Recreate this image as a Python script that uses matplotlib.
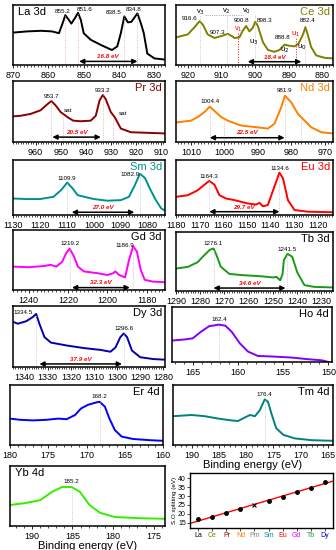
import numpy as np
import matplotlib
matplotlib.use("Agg")
import matplotlib.pyplot as plt
from matplotlib.ticker import MultipleLocator, FixedLocator

plt.rcParams['font.family'] = ['Liberation Sans', 'DejaVu Sans']

# ---- spectra (x in eV, y = relative intensity 0..1 of panel height) ----
la_x = [870, 866, 862, 859, 857, 856, 855.2, 854.3, 853.5, 852.5, 851.6, 850.8, 850, 848, 845, 842,
        840.5, 839.5, 838.5, 837.5, 836.5, 834.8, 833.8, 833, 832, 830, 827]
la_y = [0.54, 0.56, 0.57, 0.56, 0.53, 0.69, 0.83, 0.76, 0.69, 0.78, 0.87, 0.75, 0.53, 0.42, 0.33, 0.25,
        0.31, 0.53, 0.81, 0.71, 0.72, 0.86, 0.69, 0.53, 0.19, 0.11, 0.09]

ce_x = [923.5, 920, 918, 916.5, 915.5, 914.1, 912.1, 909.6, 908.1, 906.1, 904.7, 903.7, 902.7, 901.7,
        900.7, 900, 899.2, 897.7, 896.2, 894.3, 892.8, 891.3, 889.8, 888.3, 887.1, 885.8, 885.1, 884.4,
        883.4, 881.9, 879.4, 876.9]
ce_y = [0.46, 0.51, 0.63, 0.73, 0.67, 0.51, 0.45, 0.49, 0.52, 0.45, 0.46, 0.57, 0.65, 0.56,
        0.62, 0.72, 0.65, 0.38, 0.25, 0.22, 0.25, 0.34, 0.32, 0.31, 0.36, 0.51, 0.63, 0.51,
        0.30, 0.16, 0.12, 0.11]

pr_x = [969, 966, 962, 958, 955, 953.7, 952, 950, 949, 947, 945, 942, 938, 936, 934.5, 933.2, 932, 930,
        928.5, 926, 922, 915, 908]
pr_y = [0.42, 0.43, 0.46, 0.52, 0.63, 0.67, 0.60, 0.49, 0.46, 0.40, 0.35, 0.34, 0.35, 0.43, 0.68, 0.77,
        0.70, 0.49, 0.41, 0.22, 0.16, 0.15, 0.14]

nd_x = [1014.5, 1010, 1008, 1006, 1004.4, 1003, 1001, 999, 995, 990, 987, 985, 983, 981.9, 980, 978,
        976, 974, 971, 967.5]
nd_y = [0.32, 0.35, 0.41, 0.49, 0.58, 0.51, 0.41, 0.35, 0.27, 0.24, 0.22, 0.30, 0.57, 0.76, 0.65, 0.46,
        0.35, 0.24, 0.16, 0.14]

sm_x = [1130, 1125, 1120, 1115, 1112, 1109.9, 1108, 1106, 1100, 1095, 1090, 1087, 1085, 1082.9, 1081,
        1079, 1077, 1075, 1073.6]
sm_y = [0.30, 0.29, 0.29, 0.33, 0.46, 0.59, 0.49, 0.36, 0.29, 0.26, 0.27, 0.33, 0.52, 0.75, 0.67,
        0.46, 0.27, 0.12, 0.08]

eu_x = [1180, 1175, 1170.8, 1168, 1165.9, 1163.7, 1161.6, 1158.8, 1155.2, 1149.6, 1146.1, 1144.6,
        1143.2, 1141.1, 1138.3, 1136.2, 1134.7, 1132.6, 1129.8, 1124.1, 1113.5]
eu_y = [0.33, 0.36, 0.45, 0.55, 0.62, 0.55, 0.36, 0.30, 0.27, 0.21, 0.19, 0.22, 0.16, 0.18, 0.52,
        0.77, 0.67, 0.27, 0.09, 0.06, 0.05]

gd_x = [1248, 1240, 1232, 1229, 1226, 1223, 1221, 1219.2, 1217, 1215, 1212, 1205, 1200, 1197, 1196,
        1194, 1191, 1189, 1186.9, 1185, 1183, 1181, 1177, 1171]
gd_y = [0.39, 0.38, 0.40, 0.42, 0.39, 0.47, 0.61, 0.69, 0.56, 0.39, 0.31, 0.28, 0.25, 0.28, 0.31,
        0.25, 0.21, 0.50, 0.73, 0.64, 0.33, 0.17, 0.14, 0.13]

tb_x = [1290, 1285, 1281, 1279, 1276, 1274.5, 1273.5, 1271.5, 1268, 1263, 1255, 1250, 1248.5, 1247,
        1246, 1245.5, 1244, 1242, 1240, 1237, 1233, 1225.2]
tb_y = [0.38, 0.41, 0.49, 0.58, 0.70, 0.72, 0.63, 0.41, 0.29, 0.27, 0.25, 0.23, 0.24, 0.18,
        0.29, 0.52, 0.63, 0.58, 0.32, 0.10, 0.07, 0.06]

dy_x = [1345, 1342.9, 1339.3, 1336.4, 1335, 1333.6, 1331.4, 1328.6, 1321.4, 1314.3, 1307.1, 1302.9,
        1300.7, 1298.6, 1297.1, 1295.7, 1293.6, 1290, 1284.3, 1279.3]
dy_y = [0.74, 0.71, 0.75, 0.82, 0.87, 0.71, 0.49, 0.40, 0.35, 0.31, 0.28, 0.25,
        0.32, 0.49, 0.55, 0.49, 0.27, 0.16, 0.13, 0.12]

ho_x = [167.3, 165.9, 165, 164.1, 163.2, 162.1, 161.4, 160.7, 159.8, 158.9, 157.8, 156.2, 154,
        152.2, 150.7, 150]
ho_y = [0.39, 0.41, 0.43, 0.55, 0.65, 0.68, 0.66, 0.55, 0.34, 0.19, 0.11, 0.10, 0.08,
        0.05, 0.03, 0.0]

er_x = [180, 178.7, 177, 175.2, 173.7, 172.6, 171.5, 170.7, 169.8, 168.7, 168.3, 167.6, 167, 166.3,
        165.4, 163.9, 161.7, 160]
er_y = [0.44, 0.42, 0.41, 0.42, 0.44, 0.43, 0.50, 0.61, 0.67, 0.71, 0.72, 0.64, 0.44, 0.25,
        0.14, 0.10, 0.08, 0.07]

tm_x = [193.4, 190, 187.6, 185.1, 182.7, 181.5, 180.2, 179.3, 178.4, 177.5, 176.6, 176, 175.4, 174.5,
        173.2, 171.1, 168, 164.1]
tm_y = [0.48, 0.50, 0.48, 0.44, 0.41, 0.40, 0.46, 0.50, 0.48, 0.58, 0.76, 0.72, 0.53, 0.28,
        0.17, 0.11, 0.08, 0.07]

yb_x = [192.7, 190.9, 189, 187.5, 186.3, 185.1, 184.1, 182.9, 181.6, 179.8, 176.7, 173.6]
yb_y = [0.35, 0.38, 0.43, 0.57, 0.65, 0.65, 0.57, 0.35, 0.22, 0.15, 0.13, 0.12]

# spin-orbit splitting summary
so_elements = ['La', 'Ce', 'Pr', 'Nd', 'Pm', 'Sm', 'Eu', 'Gd', 'Tb', 'Dy']
so_colors = ['black', '#808000', '#8b0000', '#ff8000', '#808080', '#009090', '#ff0000', '#ff00ff',
             '#1a9a1a', '#0000b0']
so_values = [16.8, 18.4, 20.5, 22.5, 24.8, 27.0, 29.7, 32.3, 34.6, 37.9]

W, H = 336, 550
fig = plt.figure(figsize=(W / 100, H / 100), dpi=100)


def box(x0, y0, x1, y1):
    return fig.add_axes([x0 / W, 1 - y1 / H, (x1 - x0) / W, (y1 - y0) / H])


def panel(rect, xs, ys, xlim, color, name, name_color='black', major=10, minor=1,
          name_left=False, ticklabels=None):
    ax = box(*rect)
    ax.plot(xs, ys, color=color, lw=1.4)
    ax.set_xlim(*xlim)
    ax.set_ylim(0, 1)
    ax.set_yticks([])
    ax.xaxis.set_major_locator(MultipleLocator(major))
    ax.xaxis.set_minor_locator(MultipleLocator(minor))
    ax.tick_params(axis='x', which='major', labelsize=6.5, length=2.5, width=0.6, pad=1.5)
    ax.tick_params(axis='x', which='minor', length=1.5, width=0.5)
    if ticklabels is not None:
        ax.xaxis.set_major_locator(FixedLocator([t for t, _ in ticklabels]))
        ax.set_xticklabels([s for _, s in ticklabels])
    for s in ax.spines.values():
        s.set_linewidth(1.1)
    if name_left:
        ax.text(0.03, 0.97, name, transform=ax.transAxes, ha='left', va='top', fontsize=8,
                color=name_color)
    else:
        ax.text(0.98, 0.97, name, transform=ax.transAxes, ha='right', va='top', fontsize=8,
                color=name_color)
    return ax


def peak_mark(ax, x, ytop, text=None, tx=None, ty=None, lc='#bbbbbb'):
    ax.plot([x, x], [0, ytop], ls=':', lw=0.6, color=lc)
    if text:
        ax.text(x if tx is None else tx, ty, text, fontsize=4.5, ha='center', va='center')


def split_arrow(ax, x1, x2, y, label, ly):
    ax.annotate('', xy=(x2, y), xytext=(x1, y),
                arrowprops=dict(arrowstyle='<|-|>', color='black', lw=1.1, mutation_scale=7,
                                shrinkA=0, shrinkB=0))
    ax.text((x1 + x2) / 2, ly, label, fontsize=4.5, color='red', style='italic',
            fontweight='bold', ha='center', va='center')


pink = '#e0a0a0'

# La 3d
ax = panel((13, 5, 165, 65), la_x, la_y, (870, 827), 'black', 'La 3d', name_left=True)
peak_mark(ax, 855.2, 0.83, '855.2', 856, 0.89, pink)
peak_mark(ax, 851.6, 0.87, '851.6', 849.7, 0.92, pink)
peak_mark(ax, 838.5, 0.81, '838.5', 841.5, 0.87, pink)
peak_mark(ax, 834.8, 0.86, '834.8', 835.9, 0.92, pink)
split_arrow(ax, 851.3, 834.8, 0.06, '16.8 eV', 0.15)

# Ce 3d
olive = '#808000'
ax = panel((176, 5, 333, 65), ce_x, ce_y, (923.5, 876.9), olive, 'Ce 3d', olive)
for px, top in [(916.3, 0.85), (908.4, 0.85), (900.2, 0.85), (891.5, 0.3), (885.3, 0.6)]:
    peak_mark(ax, px, top)
ax.plot([915, 903.5], [0.83, 0.83], ls=':', lw=0.6, color='#888888')
for txt, tx, ty in [('916.6', 919.5, 0.78), ('907.3', 911.1, 0.54), ('900.8', 904, 0.74),
                    ('898.3', 897.2, 0.74), ('888.8', 891.8, 0.46), ('882.4', 884.4, 0.74)]:
    ax.text(tx, ty, txt, fontsize=4.5, ha='center', va='center')
for txt, tx, ty, c in [('v$_3$', 916.3, 0.88, 'black'), ('v$_2$', 908.6, 0.89, 'black'),
                       ('v$_0$', 902.5, 0.89, 'black'), ('v$_1$', 905.1, 0.6, 'red'),
                       ('u$_3$', 900.4, 0.38, 'black'), ('u$_2$', 891.3, 0.24, 'black'),
                       ('u$_1$', 888, 0.52, 'red'), ('u$_0$', 886.1, 0.29, 'black')]:
    ax.text(tx, ty, txt, fontsize=5.5, ha='center', va='center', color=c)
ax.plot([905.1, 905.1], [0, 0.55], ls=':', lw=0.7, color='red')
ax.plot([888, 888], [0, 0.47], ls=':', lw=0.7, color='red')
split_arrow(ax, 902.2, 886.3, 0.055, '18.4 eV', 0.125)

# Pr 3d
prc = '#8b0000'
ax = panel((13, 81, 165, 142), pr_x, pr_y, (969, 908.4), prc, 'Pr 3d', prc)
peak_mark(ax, 953.7, 0.67, '953.7', 953.7, 0.74, pink)
peak_mark(ax, 949, 0.46, 'sat', 947.2, 0.51, pink)
peak_mark(ax, 933.2, 0.77, '933.2', 933.2, 0.85, pink)
peak_mark(ax, 929, 0.43, 'sat', 925.2, 0.47, pink)
split_arrow(ax, 953.3, 934, 0.08, '20.5 eV', 0.16)

# Nd 3d
ndc = '#ff8000'
ax = panel((176, 81, 333, 142), nd_x, nd_y, (1014.5, 967.5), ndc, 'Nd 3d', ndc)
peak_mark(ax, 1004.4, 0.58, '1004.4', 1004.4, 0.66, pink)
peak_mark(ax, 1000, 0.4)
peak_mark(ax, 981.9, 0.76, '981.9', 981.9, 0.84, pink)
peak_mark(ax, 977, 0.4)
split_arrow(ax, 1004.4, 982, 0.07, '22.5 eV', 0.15)

# Sm 3d (tick label "1000" as printed in the original)
smc = '#009090'
ax = panel((13, 160, 165, 215), sm_x, sm_y, (1130, 1073.6), smc, 'Sm 3d', smc,
           ticklabels=[(1130, '1130'), (1120, '1120'), (1110, '1110'), (1100, '1000'),
                       (1090, '1090'), (1080, '1080')])
peak_mark(ax, 1109.9, 0.59, '1109.9', 1109.9, 0.66)
peak_mark(ax, 1082.9, 0.75, '1082.9', 1086.5, 0.73)
split_arrow(ax, 1108.2, 1085, 0.05, '27.0 eV', 0.13)

# Eu 3d
ax = panel((176, 160, 333, 215), eu_x, eu_y, (1180, 1113.5), 'red', 'Eu 3d', 'red')
peak_mark(ax, 1165.9, 0.62, '1164.3', 1165.9, 0.70)
peak_mark(ax, 1136.2, 0.77, '1134.6', 1136.2, 0.84)
split_arrow(ax, 1165.9, 1136.2, 0.06, '29.7 eV', 0.13)

# Gd 3d
ax = panel((13, 230, 165, 290), gd_x, gd_y, (1248, 1170.7), '#ff00ff', 'Gd 3d', major=20, minor=2)
peak_mark(ax, 1219.2, 0.69, '1219.2', 1219.2, 0.77)
peak_mark(ax, 1186.9, 0.73, '1186.9', 1191, 0.74)
split_arrow(ax, 1218, 1188.6, 0.04, '32.3 eV', 0.12)

# Tb 3d
ax = panel((176, 232, 333, 291), tb_x, tb_y, (1290, 1225.2), '#1a9a1a', 'Tb 3d')
peak_mark(ax, 1274.5, 0.72, '1276.1', 1274.5, 0.80)
peak_mark(ax, 1244, 0.63, '1241.5', 1244, 0.71)
split_arrow(ax, 1274.5, 1244.8, 0.05, '34.6 eV', 0.13)

# Dy 3d
ax = panel((13, 306, 165, 367), dy_x, dy_y, (1345, 1279.3), '#0000b0', 'Dy 3d')
peak_mark(ax, 1335, 0.87, '1334.5', 1340.5, 0.89)
peak_mark(ax, 1297.1, 0.55, '1296.6', 1297.1, 0.63)
split_arrow(ax, 1333.6, 1297.9, 0.05, '37.9 eV', 0.13)

# Ho 4d
ax = panel((172, 307, 332, 362), ho_x, ho_y, (167.3, 149.6), '#8000ff', 'Ho 4d', major=5, minor=1)
peak_mark(ax, 162.1, 0.68, '162.4', 162.1, 0.77)

# Er 4d
ax = panel((10, 385, 163, 445), er_x, er_y, (180, 160), '#0000ff', 'Er 4d', major=5, minor=1)
peak_mark(ax, 168.3, 0.72, '168.2', 168.3, 0.80)

# Tm 4d
ax = panel((173, 385, 333, 445), tm_x, tm_y, (193.4, 164.1), '#008080', 'Tm 4d', major=5, minor=1)
peak_mark(ax, 176.6, 0.76, '176.4', 176.6, 0.85)
ax.set_xlabel('Binding energy (eV)', fontsize=8, labelpad=0)

# Yb 4d
ax = panel((10, 466, 165, 526), yb_x, yb_y, (192.7, 173.6), '#33ee00', 'Yb 4d', name_left=True,
           major=5, minor=1)
peak_mark(ax, 185.1, 0.65, '185.2', 185.1, 0.75)
ax.set_xlabel('Binding energy (eV)', fontsize=8, labelpad=0)

# spin-orbit splitting vs element
ax = box(190, 473, 333, 528)
pos = np.arange(len(so_elements))
real = [i for i, e in enumerate(so_elements) if e != 'Pm']
fit = np.polyfit(pos[real], np.array(so_values)[real], 1)
xx = np.array([-0.6, len(so_elements) - 0.4])
ax.plot(xx, np.polyval(fit, xx), color='red', lw=1.0)
ax.plot(pos[real], np.array(so_values)[real], 'o', color='black', ms=2.5)
ax.plot([4], [so_values[4]], 'x', color='black', ms=3, mew=0.8)
ax.set_xlim(-0.6, len(so_elements) - 0.4)
ax.set_ylim(12, 43)
ax.set_yticks([15, 20, 25, 30, 35, 40])
ax.set_xticks(pos)
ax.set_xticklabels(so_elements)
for lab, c in zip(ax.get_xticklabels(), so_colors):
    lab.set_color(c)
ax.tick_params(axis='both', labelsize=5, length=2, width=0.5, pad=1)
ax.set_ylabel('S.O splitting (eV)', fontsize=4.5, labelpad=1)
for s in ax.spines.values():
    s.set_linewidth(1.0)

fig.savefig('out.png', dpi=100)
